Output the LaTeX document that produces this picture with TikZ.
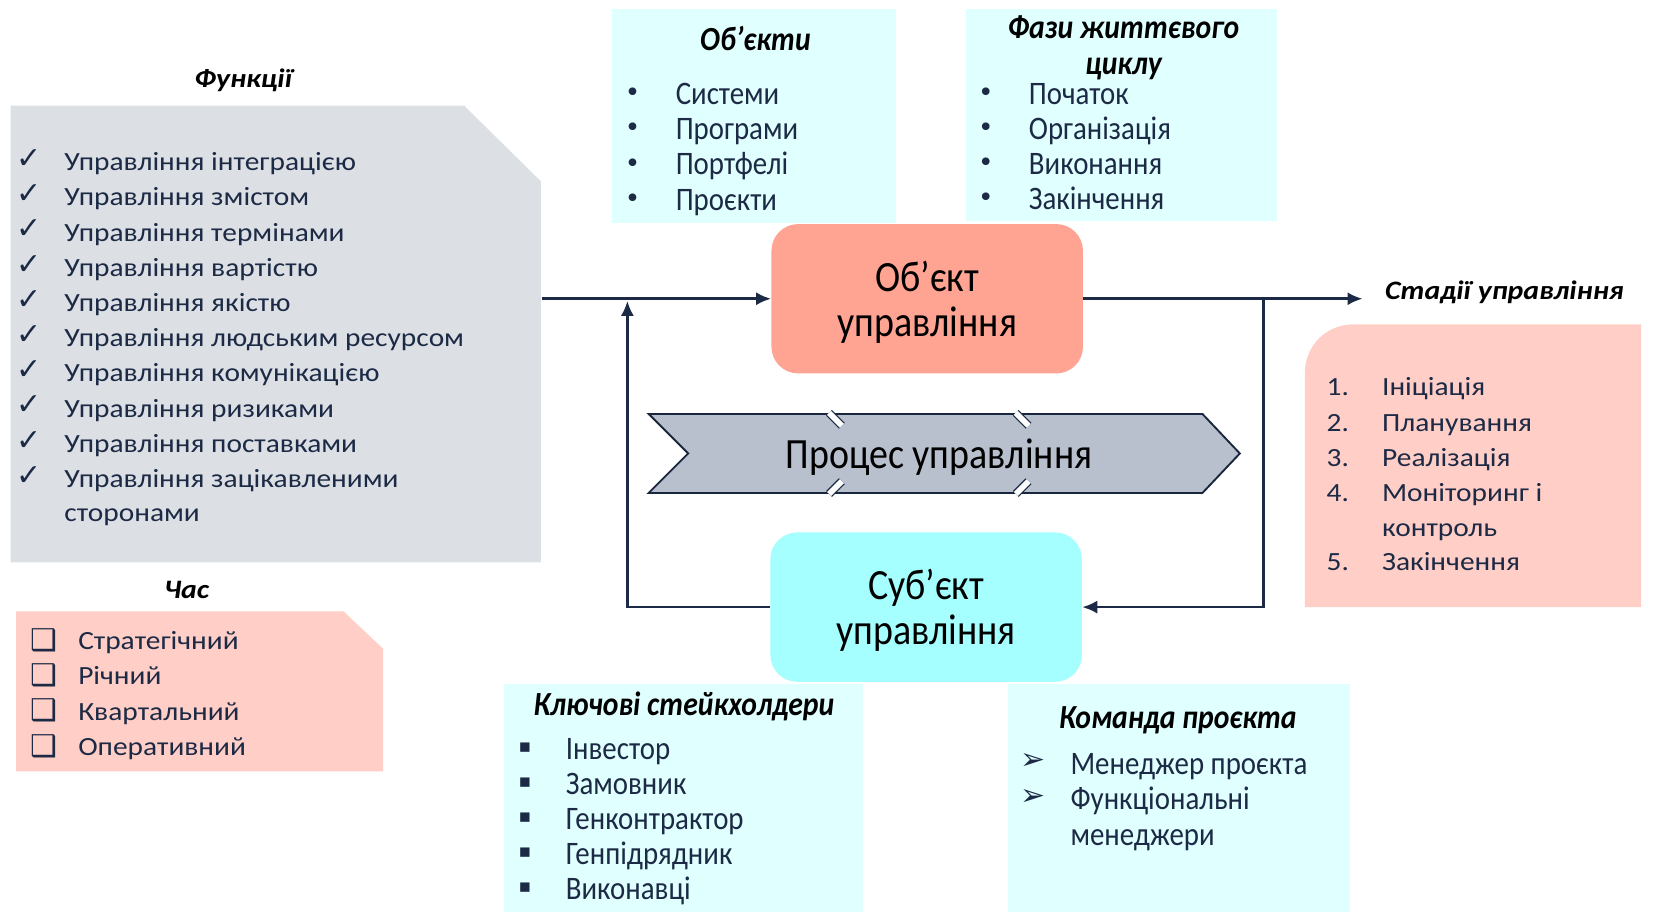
\documentclass[tikz,border=0pt]{standalone}
\usepackage{fontspec}
\setmainfont{Carlito}
\newfontfamily\breitfont[FakeStretch=1.12]{Carlito}
\newfontfamily\schmalfont[FakeStretch=0.88]{Carlito}
\newfontfamily\zeichenfont{DejaVu Sans}
\usetikzlibrary{arrows.meta}

\definecolor{grau}{HTML}{DCE0E5}
\definecolor{rosa}{HTML}{FFCEC6}
\definecolor{hellcyan}{HTML}{E0FFFF}
\definecolor{lachs}{HTML}{FFA392}
\definecolor{tuerkis}{HTML}{A5FFFF}
\definecolor{pfeilgrau}{HTML}{B9C0CD}
\definecolor{dunkel}{HTML}{1C2A45}

\begin{document}
\begin{tikzpicture}[x=0.02cm, y=-0.02cm,
	titel/.style={inner sep=0pt, text=black, font=\breitfont\bfseries\itshape\fontsize{14.2}{17}\selectfont},
	stitel/.style={inner sep=0pt, text=black, align=center, font=\schmalfont\bfseries\itshape\fontsize{18}{19.4}\selectfont},
	punkt/.style={anchor=base west, inner sep=0pt, text=dunkel, font=\breitfont\fontsize{14}{17}\selectfont},
	spunkt/.style={anchor=base west, inner sep=0pt, text=dunkel, font=\schmalfont\fontsize{17.5}{20}\selectfont},
	marke/.style={inner sep=0pt, text=dunkel, font=\zeichenfont\fontsize{14}{16}\selectfont},
	block/.style={rounded corners=0.5cm, minimum width=5.84cm, minimum height=2.8cm, align=center, text depth=0pt, text=black, font=\schmalfont\fontsize{23}{24}\selectfont},
	pfeil/.style={draw=dunkel, line width=1.4pt, -{Latex[length=8pt,width=7pt]}}]
	\useasboundingbox (0,0) rectangle (1568,865);
	% Kaesten
	\fill[grau] (10,99) -- (435,99) -- (507,170) -- (507,527) -- (10,527) -- cycle;
	\fill[rosa] (15,573) -- (322,573) -- (359,608) -- (359,723) -- (15,723) -- cycle;
	\fill[hellcyan] (574,8) rectangle (840,209);
	\fill[hellcyan] (905,8) rectangle (1197,207);
	\fill[hellcyan] (472,641) rectangle (809,855);
	\fill[hellcyan] (945,641) rectangle (1265,855);
	\fill[rosa] (1223,569) -- (1223,349) arc[start angle=180, end angle=90, radius=0.9cm] -- (1538,304) -- (1538,569) -- cycle;
	% Ueberschriften
	\node[titel] (funk) at (228,75) {Функції};
	\node[titel] (zeit) at (175,553) {Час};
	\node[stitel] (objekte) at (708,36) {Об’єкти};
	\node[stitel] (phasen) at (1053,45) {Фази життєвого\\циклу};
	\node[titel] (stadien) at (1410,274) {Стадії управління};
	\node[stitel] (stake) at (641,662) {Ключові стейкхолдери};
	\node[stitel] (team) at (1104,675) {Команда проєкта};
	% Listen
	\foreach \t [count=\i] in {Управління інтеграцією, Управління змістом, Управління термінами, Управління вартістю, Управління якістю, Управління людським ресурсом, Управління комунікацією, Управління ризиками, Управління поставками, Управління зацікавленими} {
		\node[marke, font=\zeichenfont\fontsize{16}{18}\selectfont] (fm\i) at (27,{149+33*(\i-1)}) {✓};
		\node[punkt] (f\i) at (60,{160+33*(\i-1)}) {\t};
	}
	\node[punkt] (f11) at (60,489) {сторонами};
	\foreach \t [count=\i] in {Стратегічний, Річний, Квартальний, Оперативний} {
		\node[marke, font=\zeichenfont\fontsize{16}{18}\selectfont] (zm\i) at (41,{600+33*(\i-1)}) {❑};
		\node[punkt] (z\i) at (73,{609+33*(\i-1)}) {\t};
	}
	\foreach \t [count=\i] in {Системи, Програми, Портфелі, Проєкти} {
		\node[marke] (om\i) at (593,{89+33*(\i-1)}) {•};
		\node[spunkt] (o\i) at (633,{98+33*(\i-1)}) {\t};
	}
	\foreach \t [count=\i] in {Початок, Організація, Виконання, Закінчення} {
		\node[marke] (pm\i) at (924,{89+32.7*(\i-1)}) {•};
		\node[spunkt] (p\i) at (964,{98+32.7*(\i-1)}) {\t};
	}
	\foreach \nr/\y/\t in {1/362/Ініціація, 2/395/Планування, 3/428/Реалізація, 4/461/Моніторинг і, 5/526/Закінчення} {
		\node[punkt] (sn\nr) at (1243,\y+9) {\nr.};
		\node[punkt] (s\nr) at (1295,\y+9) {\t};
	}
	\node[punkt] (s6) at (1295,503) {контроль};
	\foreach \t [count=\i] in {Інвестор, Замовник, Генконтрактор, Генпідрядник, Виконавці} {
		\node[marke, font=\zeichenfont\fontsize{10}{12}\selectfont] (km\i) at (492,{701+32.8*(\i-1)}) {▪};
		\node[spunkt] (k\i) at (530,{712+32.8*(\i-1)}) {\t};
	}
	\foreach \t [count=\i] in {Менеджер проєкта, Функціональні, менеджери} {
		\node[spunkt] (t\i) at (1003,{726+33*(\i-1)}) {\t};
	}
	\node[marke, font=\zeichenfont\fontsize{16}{18}\selectfont] (tm1) at (968,714) {➢};
	\node[marke, font=\zeichenfont\fontsize{16}{18}\selectfont] (tm2) at (968,747) {➢};
	% Bloecke
	\node[block, fill=lachs] (objekt) at (869,280) {Об’єкт\\управління};
	\node[block, fill=tuerkis] (subjekt) at (868,569) {Суб’єкт\\управління};
	% Prozesspfeil
	\filldraw[fill=pfeilgrau, draw=dunkel!90!black, line width=1pt] (608,388) -- (1127,388) -- (1162,425) -- (1127,462) -- (608,462) -- (645,425) -- cycle;
	\foreach \gx in {783,958} {
		\draw[draw=dunkel, double=white, double distance=3pt, line width=0.7pt] (\gx-6,387) -- (\gx+6,399);
		\draw[draw=dunkel, double=white, double distance=3pt, line width=0.7pt] (\gx-6,463) -- (\gx+6,451);
	}
	\node[text depth=0pt, font=\schmalfont\fontsize{23}{24}\selectfont] (prozess) at (880,425) {Процес управління};
	% Pfeile
	\coordinate (ein) at (508,280);
	\coordinate (rueck) at (588,282);
	\coordinate (abzw) at (1184,280);
	\coordinate (aus) at (1277,280);
	\draw[pfeil] (ein) -- (objekt);
	\draw[pfeil] (subjekt) -| (rueck);
	\draw[pfeil] (objekt) -- (aus);
	\draw[pfeil] (abzw) |- (subjekt);
\end{tikzpicture}
\end{document}
